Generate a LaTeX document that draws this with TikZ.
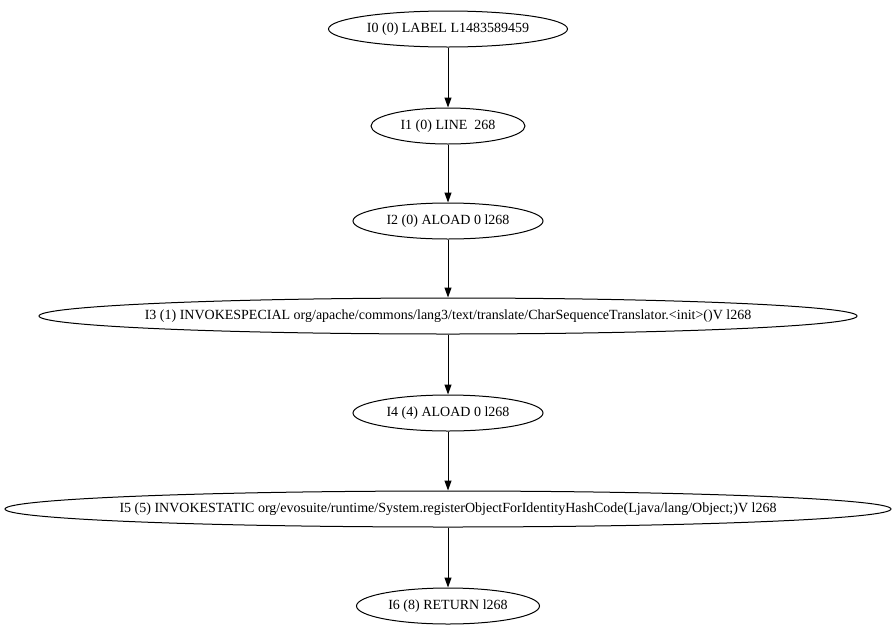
\documentclass[tikz,border=0pt]{standalone}
\usepackage{fontspec}
\setmainfont{Liberation Serif}
\usetikzlibrary{shapes.geometric,arrows.meta}
\tikzset{
  insn/.style={draw, ellipse, line width=1pt, inner sep=0pt, minimum height=36pt,
    font=\fontsize{14}{16}\selectfont,
    execute at begin node=\hbox to 0pt\bgroup\hss,
    execute at end node=\hss\egroup},
  flow/.style={line width=1pt, -{Triangle[length=10pt,width=7pt]}}
}
\begin{document}
\begin{tikzpicture}[x=1pt,y=-1pt]
\useasboundingbox (0,0) rectangle (896,635);
\node[insn, minimum width=239pt] (i0) at (448,29) {I0 (0) LABEL L1483589459};
\node[insn, minimum width=154pt] (i1) at (448,126) {I1 (0) LINE\ \ 268};
\node[insn, minimum width=190pt] (i2) at (448,221) {I2 (0) ALOAD 0 l268};
\node[insn, minimum width=818pt] (i3) at (448,316) {I3 (1) INVOKESPECIAL org/apache/commons/lang3/text/translate/CharSequenceTranslator.<init>()V l268};
\node[insn, minimum width=190pt] (i4) at (448,413) {I4 (4) ALOAD 0 l268};
\node[insn, minimum width=886pt] (i5) at (448,509) {I5 (5) INVOKESTATIC org/evosuite/runtime/System.registerObjectForIdentityHashCode(Ljava/lang/Object;)V l268};
\node[insn, minimum width=183pt] (i6) at (448,606) {I6 (8) RETURN l268};
\draw[flow] (i0) -- (i1);
\draw[flow] (i1) -- (i2);
\draw[flow] (i2) -- (i3);
\draw[flow] (i3) -- (i4);
\draw[flow] (i4) -- (i5);
\draw[flow] (i5) -- (i6);
\end{tikzpicture}
\end{document}
